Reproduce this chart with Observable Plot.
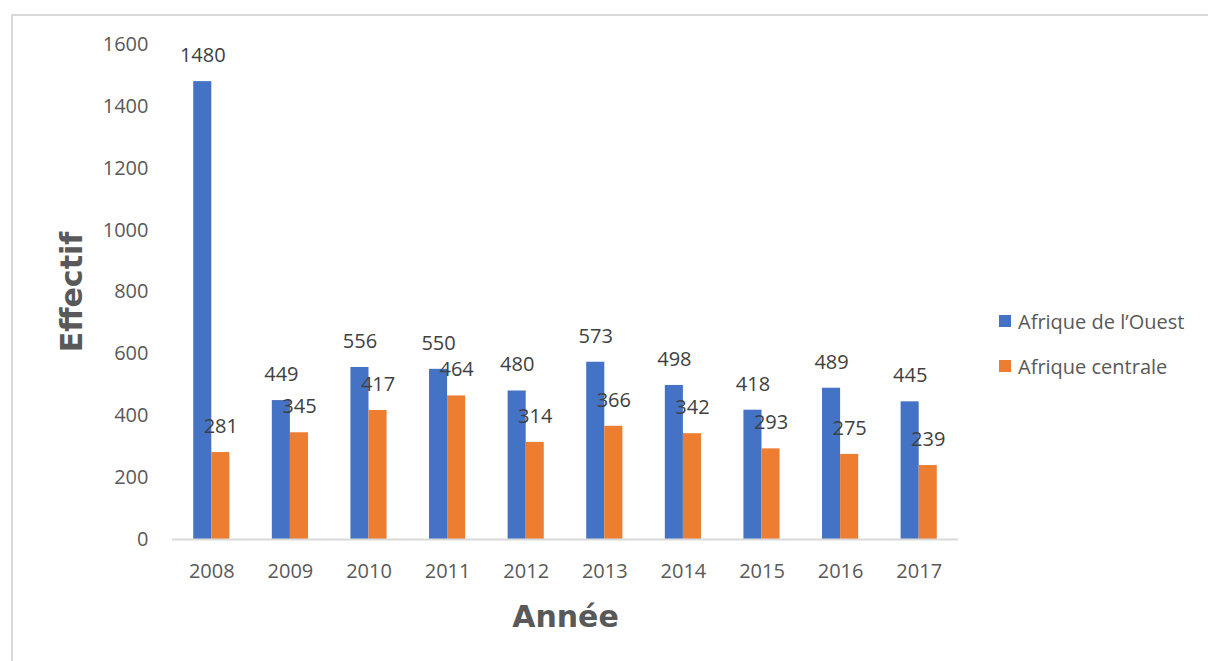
<!DOCTYPE html>
<html>
<head>
<meta charset="utf-8">
<script src="https://cdn.jsdelivr.net/npm/d3@7"></script>
<script src="https://cdn.jsdelivr.net/npm/@observablehq/plot@0.6"></script>
<style>
  html, body { margin: 0; padding: 0; background: #fff; overflow: hidden; }
  #wrap { position: relative; width: 1208px; height: 661px; overflow: hidden; }
  #border { position: absolute; left: 11px; top: 14px; width: 1300px; height: 800px; border: 2px solid #d9d9d9; box-sizing: border-box; }
  #chart { position: absolute; left: 0; top: 0; }
  .leg { position: absolute; left: 999px; height: 28px; display: flex; align-items: center; font-family: "Open Sans", sans-serif; font-size: 20px; color: #595959; white-space: nowrap; }
  .leg span.sw { display: inline-block; width: 12px; height: 12px; margin-right: 7px; }
</style>
</head>
<body>
<div id="wrap">
  <div id="border"></div>
  <div id="chart"></div>
  <div id="legend"></div>
</div>
<script>
const years = ["2008","2009","2010","2011","2012","2013","2014","2015","2016","2017"];
const ouest = [1480, 449, 556, 550, 480, 573, 498, 418, 489, 445];
const centrale = [281, 345, 417, 464, 314, 366, 342, 293, 275, 239];
const seriesNames = ["Afrique de l’Ouest", "Afrique centrale"];
const seriesColors = ["#4472C4", "#ED7D31"];
const yTicks = [0, 200, 400, 600, 800, 1000, 1200, 1400, 1600];
const yTitle = "Effectif";
const xTitle = "Année";

const dOuest = years.map((y, i) => ({year: y, value: ouest[i]}));
const dCentrale = years.map((y, i) => ({year: y, value: centrale[i]}));

const halfBand = (1208 - 172 - 250) / years.length * 0.46 / 2;

const chart = Plot.plot({
  width: 1208,
  height: 661,
  marginTop: 44,
  marginBottom: 122,
  marginLeft: 172,
  marginRight: 250,
  style: {fontFamily: "'Open Sans', sans-serif", fontSize: "20px", color: "#595959", background: "transparent"},
  x: {domain: years, paddingInner: 0.54, paddingOuter: 0.27, round: false},
  y: {domain: [0, 1600]},
  marks: [
    Plot.axisY({ticks: yTicks, tickSize: 0, tickPadding: 24, label: null, tickFormat: d => String(d)}),
    Plot.axisX({tickSize: 0, tickPadding: 24, label: null}),
    Plot.barY(dOuest, {x: "year", y: "value", fill: seriesColors[0], insetRight: halfBand}),
    Plot.barY(dCentrale, {x: "year", y: "value", fill: seriesColors[1], insetLeft: halfBand}),
    Plot.ruleY([0], {stroke: "#d9d9d9", strokeWidth: 2}),
    Plot.text(dOuest, {x: "year", y: "value", text: d => String(d.value), dx: -halfBand / 2, dy: -26, fill: "#404040"}),
    Plot.text(dCentrale, {x: "year", y: "value", text: d => String(d.value), dx: halfBand / 2, dy: -26, fill: "#404040"}),
    Plot.text([yTitle], {frameAnchor: "left", dx: -100, rotate: -90, textAnchor: "middle", lineAnchor: "middle", fontFamily: "'DejaVu Sans', sans-serif", fontWeight: "bold", fontSize: 30, fill: "#595959"}),
    Plot.text([xTitle], {frameAnchor: "bottom", dy: 78, textAnchor: "middle", lineAnchor: "middle", fontFamily: "'DejaVu Sans', sans-serif", fontWeight: "bold", fontSize: 30, fill: "#595959"})
  ]
});
document.getElementById("chart").appendChild(chart);

const legend = document.getElementById("legend");
const legendCenters = [321, 366];
seriesNames.forEach((name, i) => {
  const item = document.createElement("div");
  item.className = "leg";
  item.style.top = (legendCenters[i] - 14) + "px";
  const sw = document.createElement("span");
  sw.className = "sw";
  sw.style.background = seriesColors[i];
  item.appendChild(sw);
  item.appendChild(document.createTextNode(name));
  legend.appendChild(item);
});
</script>
</body>
</html>
